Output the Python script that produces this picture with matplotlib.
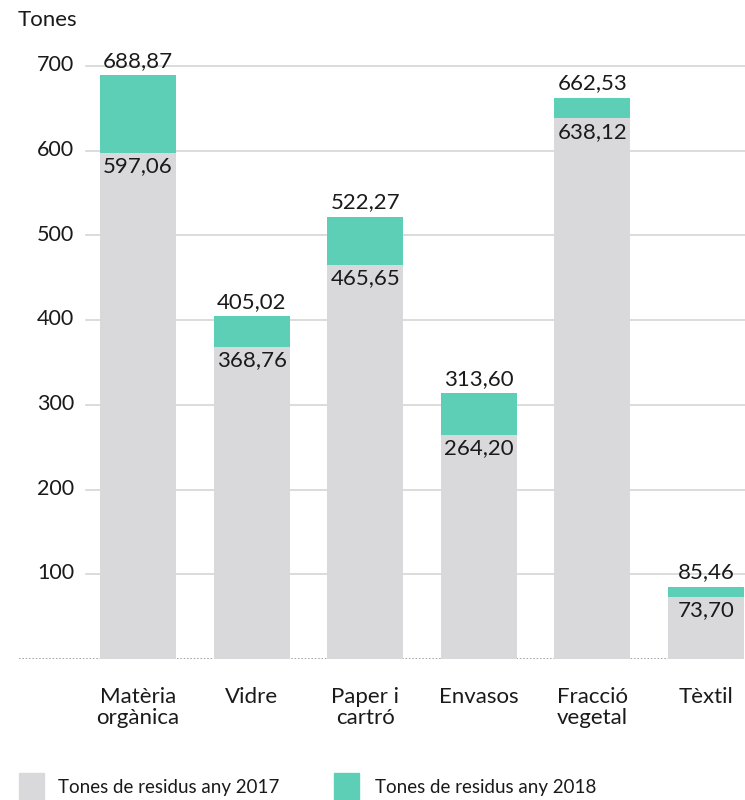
import matplotlib.pyplot as plt
from matplotlib.patches import Rectangle

plt.rcParams['font.family'] = ['Lato', 'DejaVu Sans']

# dades
categories = ['Matèria\norgànica', 'Vidre', 'Paper i\ncartró', 'Envasos', 'Fracció\nvegetal', 'Tèxtil']
tones_2017 = [597.06, 368.76, 465.65, 264.20, 638.12, 73.70]
tones_2018 = [688.87, 405.02, 522.27, 313.60, 662.53, 85.46]
yticks = [100, 200, 300, 400, 500, 600, 700]

gray = '#d9d9db'
green = '#5ccfb6'
txt = '#1a1a1a'

W, H = 745, 800
fig = plt.figure(figsize=(W / 100, H / 100), dpi=100)

# eix: de x=19 a 745 px, y=0 a 659 px i 700 a 66 px
left_px, right_px = 19, 745
top_px, bottom_px = 56, 659
ax = fig.add_axes([left_px / W, 1 - bottom_px / H,
                   (right_px - left_px) / W, (bottom_px - top_px) / H])

step = 113.6
c0 = 138
x = list(range(len(categories)))
ax.set_xlim((left_px - c0) / step, (right_px - c0) / step)
px_per_unit = (659 - 66) / 700
ax.set_ylim(0, (bottom_px - top_px) / px_per_unit)

# línies de graella
grid_start = (86 - left_px) / (right_px - left_px)
for t in yticks:
    ax.axhline(t, xmin=grid_start, xmax=1, color='#d6d6d6', lw=1.2, zorder=0)
    ax.text(-(c0 - 74) / step, t + 1, str(t), ha='right', va='center',
            fontsize=15.5, color=txt)
ax.axhline(0, color='#8a8a8a', lw=1.1, ls=(0, (1, 1.2)), zorder=0)

bw = 76 / step
ax.bar(x, tones_2018, width=bw, color=green, zorder=2)
ax.bar(x, tones_2017, width=bw, color=gray, zorder=3)

fmt = lambda v: f'{v:.2f}'.replace('.', ',')
for i in x:
    ax.text(i, tones_2018[i] + 5, fmt(tones_2018[i]), ha='center', va='bottom',
            fontsize=16, color=txt, zorder=4)
    ax.text(i, tones_2017[i] - 4, fmt(tones_2017[i]), ha='center', va='top',
            fontsize=16, color=txt, zorder=4)

ax.set_xticks(x)
ax.set_xticklabels(categories, fontsize=16, color=txt, linespacing=1.1)
ax.tick_params(axis='x', length=0, pad=20)
ax.set_yticks([])
for s in ax.spines.values():
    s.set_visible(False)

fig.text(18 / W, 1 - 20 / H, 'Tones', ha='left', va='center', fontsize=16, color=txt)

# llegenda
fig.patches.append(Rectangle((19 / W, 1 - 800 / H), 25 / W, 27 / H,
                             transform=fig.transFigure, color=gray))
fig.text(58 / W, 1 - 788 / H, 'Tones de residus any 2017', ha='left', va='center',
         fontsize=13.5, color=txt)
fig.patches.append(Rectangle((334 / W, 1 - 800 / H), 25 / W, 27 / H,
                             transform=fig.transFigure, color=green))
fig.text(375 / W, 1 - 788 / H, 'Tones de residus any 2018', ha='left', va='center',
         fontsize=13.5, color=txt)

fig.savefig('out.png', dpi=100)
